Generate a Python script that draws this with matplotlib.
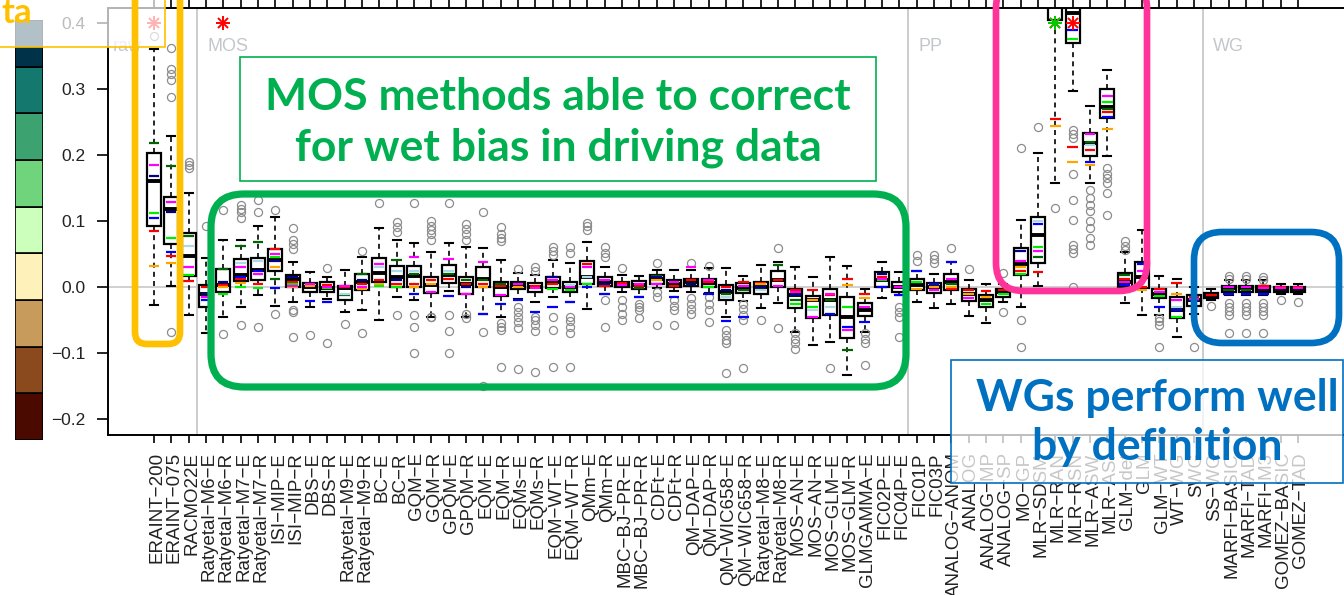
import numpy as np
import matplotlib.pyplot as plt
from matplotlib.patches import FancyBboxPatch, Rectangle
import matplotlib.transforms as mtransforms

plt.rcParams['font.family'] = ['Liberation Sans', 'DejaVu Sans']

# method names, one box each
methods = [
    'ERAINT-200', 'ERAINT-075', 'RACMO22E',
    'Ratyetal-M6-E', 'Ratyetal-M6-R', 'Ratyetal-M7-E', 'Ratyetal-M7-R',
    'ISI-MIP-E', 'ISI-MIP-R', 'DBS-E', 'DBS-R', 'Ratyetal-M9-E', 'Ratyetal-M9-R',
    'BC-E', 'BC-R', 'GQM-E', 'GQM-R', 'GPQM-E', 'GPQM-R', 'EQM-E', 'EQM-R',
    'EQMs-E', 'EQMs-R', 'EQM-WT-E', 'EQM-WT-R', 'QMm-E', 'QMm-R',
    'MBC-BJ-PR-E', 'MBC-BJ-PR-R', 'CDFt-E', 'CDFt-R', 'QM-DAP-E', 'QM-DAP-R',
    'QM-WIC658-E', 'QM-WIC658-R', 'Ratyetal-M8-E', 'Ratyetal-M8-R',
    'MOS-AN-E', 'MOS-AN-R', 'MOS-GLM-E', 'MOS-GLM-R', 'GLMGAMMA-E',
    'FIC02P-E', 'FIC04P-E', 'FIC01P', 'FIC03P',
    'ANALOG-ANOM', 'ANALOG', 'ANALOG-MP', 'ANALOG-SP', 'MO-GP',
    'MLR-SDSM', 'MLR-RAN', 'MLR-RSN', 'MLR-ASW', 'MLR-ASI',
    'GLM-det', 'GLM', 'GLM-WT', 'WT-WG', 'SWG',
    'SS-WG', 'MARFI-BASIC', 'MARFI-TAD', 'MARFI-M3', 'GOMEZ-BASIC', 'GOMEZ-TAD',
]

# box statistics (relative bias)
whis_lo = [-0.027, 0.002, -0.042, -0.070, -0.045, -0.030, -0.012, -0.029, -0.023, -0.030,
           -0.018, -0.038, -0.034, -0.050, -0.015, -0.020, -0.045, -0.006, -0.045, -0.040,
           -0.045, -0.018, -0.022, -0.015, -0.022, -0.033, -0.010, -0.008, -0.015, -0.002,
           -0.006, -0.008, -0.009, -0.045, -0.021, -0.032, -0.024, -0.068, -0.088, -0.083,
           -0.133, -0.068, -0.017, -0.012, -0.022, -0.032, -0.025, -0.044, -0.055, -0.022,
           -0.030, 0.002, 0.157, 0.297, 0.157, 0.199, -0.024, -0.042, -0.042, -0.075,
           -0.040, -0.020, -0.012, -0.012, -0.012, -0.010, -0.010]
q1 = [0.092, 0.065, 0.017, -0.030, -0.008, 0.009, 0.011, 0.024, 0.000, -0.008,
      -0.008, -0.020, -0.005, 0.008, 0.000, 0.000, -0.009, 0.006, -0.011, 0.000,
      -0.014, -0.003, -0.008, -0.002, -0.008, 0.005, 0.002, 0.000, -0.003, 0.005,
      0.000, 0.002, 0.000, -0.020, -0.009, -0.011, 0.000, -0.032, -0.047, -0.042,
      -0.077, -0.044, 0.000, -0.007, -0.005, -0.009, -0.005, -0.021, -0.030, -0.015,
      0.019, 0.036, 0.405, 0.370, 0.199, 0.256, 0.000, -0.002, -0.017, -0.047,
      -0.029, -0.016, -0.007, -0.007, -0.007, -0.007, -0.007]
med = [0.161, 0.119, 0.047, -0.010, 0.003, 0.018, 0.026, 0.041, 0.012, 0.000,
       -0.002, -0.001, 0.008, 0.021, 0.015, 0.017, 0.003, 0.018, 0.004, 0.013,
       0.000, 0.003, 0.000, 0.007, 0.000, 0.015, 0.008, 0.004, 0.003, 0.012,
       0.005, 0.008, 0.006, -0.008, -0.002, 0.000, 0.010, -0.012, -0.020, -0.020,
       -0.045, -0.035, 0.010, 0.000, 0.003, 0.000, 0.008, -0.010, -0.020, -0.008,
       0.035, 0.079, 0.440, 0.415, 0.218, 0.273, 0.008, 0.015, -0.010, -0.035,
       -0.020, -0.012, -0.002, -0.002, -0.003, -0.003, -0.003]
q3 = [0.203, 0.137, 0.082, 0.003, 0.027, 0.042, 0.044, 0.058, 0.018, 0.006,
      0.007, 0.002, 0.020, 0.044, 0.032, 0.032, 0.015, 0.033, 0.015, 0.030,
      0.008, 0.008, 0.006, 0.015, 0.008, 0.039, 0.015, 0.008, 0.009, 0.018,
      0.011, 0.012, 0.012, 0.003, 0.006, 0.008, 0.024, -0.003, -0.014, -0.003,
      -0.015, -0.024, 0.023, 0.008, 0.012, 0.006, 0.020, -0.003, -0.012, -0.003,
      0.059, 0.106, 0.500, 0.470, 0.233, 0.300, 0.021, 0.038, -0.003, -0.015,
      -0.012, -0.009, 0.002, 0.002, 0.002, 0.000, 0.000]
whis_hi = [0.360, 0.229, 0.142, 0.044, 0.071, 0.071, 0.092, 0.106, 0.038, 0.023,
           0.015, 0.026, 0.046, 0.089, 0.071, 0.067, 0.053, 0.067, 0.060, 0.059,
           0.041, 0.021, 0.018, 0.041, 0.036, 0.068, 0.030, 0.018, 0.017, 0.026,
           0.026, 0.026, 0.029, 0.029, 0.017, 0.033, 0.038, 0.030, 0.015, 0.045,
           0.032, -0.003, 0.038, 0.023, 0.024, 0.020, 0.038, 0.011, 0.005, 0.004,
           0.101, 0.203, 0.600, 0.550, 0.274, 0.329, 0.053, 0.086, 0.017, 0.012,
           0.000, -0.003, 0.011, 0.011, 0.011, 0.005, 0.005]

outliers = [
    [0.38], [0.362, 0.33, 0.322, 0.314, 0.288, -0.068], [0.19, 0.185, 0.18],
    [0.093], [0.117, -0.071], [0.125, 0.119, 0.113, 0.105, -0.058], [0.132, 0.114, -0.06],
    [0.117, -0.04], [0.089, 0.072, 0.066, 0.057, -0.035, -0.037, -0.076], [-0.072],
    [0.029, -0.085], [-0.056], [0.055, -0.069], [0.128], [0.099, 0.091, 0.083, -0.042],
    [0.127, -0.042, -0.06, -0.1], [0.1, 0.093, 0.087, 0.08, 0.072, -0.045, -0.046],
    [0.127, -0.042, -0.066, -0.1], [0.096, 0.088, 0.08, 0.072, -0.04, -0.047],
    [0.113, -0.068, -0.15], [0.091, 0.08, 0.075, 0.07, -0.055, -0.06, -0.065, -0.121],
    [0.027, -0.03, -0.038, -0.045, -0.053, -0.062, -0.124],
    [0.03, 0.025, -0.045, -0.05, -0.058, -0.066, -0.128],
    [0.06, 0.055, 0.048, -0.045, -0.065, -0.121],
    [0.06, 0.052, -0.045, -0.052, -0.06, -0.07, -0.121],
    [0.097, 0.092, 0.086], [0.06, 0.052, 0.045, -0.02, -0.06],
    [0.029, -0.02, -0.03, -0.04, -0.05], [-0.025, -0.03, -0.035, -0.047],
    [0.036, -0.008, -0.015, -0.058], [-0.02, -0.028, -0.035, -0.058],
    [0.036, -0.017, -0.025, -0.033, -0.04], [0.032, -0.015, -0.025, -0.035, -0.053],
    [-0.065, -0.072, -0.08, -0.085, -0.13], [-0.025, -0.033, -0.042, -0.05, -0.123],
    [-0.05], [0.059, -0.062], [-0.07, -0.078, -0.085, -0.093], [], [-0.123], [],
    [-0.07, -0.078, -0.085, -0.118], [], [-0.03, -0.038, -0.045, -0.075],
    [0.048, 0.04], [0.048, 0.042, 0.036], [0.059], [0.027], [], [0.021, -0.037],
    [0.21, -0.05, -0.09], [0.243], [0.12],
    [0.238, 0.232, 0.226, 0.172, 0.132, 0.101, 0.064, 0.058, 0.052, 0.0],
    [0.147, 0.135, 0.125, 0.115, 0.1, 0.09, 0.075, 0.064],
    [0.18, 0.172, 0.165, 0.158, 0.142, 0.109], [0.07, 0.063, 0.056], [],
    [-0.047, -0.052, -0.058, -0.09], [], [-0.09], [-0.029],
    [0.017, 0.012, -0.024, -0.03, -0.036, -0.042, -0.07],
    [0.017, 0.012, -0.024, -0.03, -0.036, -0.042, -0.07],
    [0.015, 0.01, -0.024, -0.03, -0.036, -0.042, -0.07], [-0.02], [-0.022],
]

nan = np.nan
# per-region values shown as coloured dashes
mark_red = [0.085, 0.047, 0.009, 0.0, 0.003, 0.012, 0.005, 0.058, 0.008, 0.004,
            0.003, 0.0, 0.005, 0.01, 0.005, 0.005, 0.01, 0.012, 0.005, 0.005,
            0.002, nan, 0.002, 0.005, nan, 0.035, 0.002, 0.006, 0.002, nan,
            0.002, 0.01, 0.008, 0.0, 0.008, 0.006, 0.01, -0.005, -0.005, -0.012,
            0.012, -0.01, 0.015, 0.0, nan, nan, -0.003, -0.004, -0.006, -0.005,
            0.025, 0.023, 0.255, 0.212, 0.207, 0.265, 0.012, 0.0, -0.003, 0.006,
            -0.015, -0.012, nan, nan, 0.001, 0.0, 0.0]
mark_orange = [0.032, 0.036, nan, nan, 0.0, 0.006, nan, 0.03, 0.0, 0.002,
               nan, nan, -0.003, 0.005, 0.0, 0.0, 0.005, nan, nan, 0.0,
               nan, 0.0, nan, nan, nan, nan, nan, nan, nan, 0.01,
               nan, nan, nan, nan, nan, 0.004, nan, nan, -0.02, nan,
               0.003, -0.016, nan, nan, -0.003, 0.0, 0.0, -0.01, -0.015, nan,
               0.03, nan, 0.244, 0.189, 0.185, 0.239, nan, -0.005, nan, -0.01,
               nan, nan, nan, nan, nan, nan, nan]
mark_green = [0.112, 0.075, 0.018, nan, -0.01, 0.0, -0.002, 0.045, 0.005, nan,
              -0.002, nan, nan, 0.002, 0.0, nan, nan, nan, nan, nan,
              nan, nan, nan, -0.003, -0.005, 0.005, nan, nan, nan, nan,
              nan, 0.004, 0.0, nan, nan, nan, nan, -0.025, -0.03, nan,
              -0.03, nan, 0.01, nan, 0.008, nan, nan, nan, -0.025, -0.01,
              0.02, 0.06, nan, 0.375, nan, 0.28, nan, nan, -0.014, -0.045,
              nan, nan, nan, nan, nan, nan, nan]
mark_darkgreen = [0.218, 0.183, 0.078, nan, 0.028, 0.062, 0.068, 0.012, nan, nan,
                  nan, -0.012, 0.02, nan, 0.041, 0.02, nan, 0.02, 0.01, 0.01,
                  0.005, nan, nan, nan, nan, nan, nan, nan, -0.002, 0.017,
                  nan, nan, nan, -0.01, -0.005, nan, 0.033, -0.02, nan, -0.02,
                  -0.095, nan, nan, nan, nan, nan, 0.005, nan, nan, nan,
                  nan, 0.045, nan, nan, 0.22, 0.27, 0.018, nan, nan, nan,
                  nan, nan, -0.004, -0.004, nan, nan, nan]
mark_blue = [0.105, 0.053, nan, -0.02, nan, 0.015, 0.025, -0.001, nan, -0.021,
             -0.022, nan, nan, nan, nan, -0.01, nan, -0.014, nan, -0.04,
             -0.026, -0.02, -0.037, -0.03, -0.022, 0.0, -0.01, nan, -0.015, nan,
             -0.015, nan, -0.01, -0.052, -0.046, nan, nan, nan, nan, -0.04,
             -0.06, -0.053, 0.0, -0.012, 0.025, 0.005, 0.038, nan, nan, nan,
             nan, 0.095, nan, 0.39, 0.189, 0.257, 0.003, 0.035, -0.03, -0.035,
             -0.02, nan, -0.01, -0.01, -0.01, nan, nan]
mark_navy = [0.169, 0.114, nan, -0.01, 0.008, nan, nan, 0.04, 0.015, nan,
             nan, nan, 0.01, nan, 0.01, nan, nan, nan, 0.0, nan,
             nan, nan, nan, 0.015, nan, nan, 0.005, nan, nan, 0.015,
             nan, 0.005, nan, -0.005, nan, 0.0, nan, -0.012, nan, nan,
             nan, nan, 0.02, nan, nan, nan, nan, nan, nan, nan,
             0.055, nan, nan, nan, nan, nan, nan, nan, nan, nan,
             nan, nan, nan, nan, nan, nan, nan]
mark_magenta = [0.185, 0.129, 0.031, -0.015, nan, 0.03, 0.02, 0.05, 0.002, 0.005,
                0.0, 0.001, 0.0, 0.035, nan, 0.045, -0.008, 0.042, -0.01, 0.038,
                -0.012, 0.005, -0.002, 0.01, 0.0, 0.03, 0.01, 0.003, 0.005, 0.005,
                0.008, 0.03, 0.01, nan, 0.002, nan, 0.002, -0.008, -0.045, -0.01,
                -0.065, -0.03, 0.012, 0.0, nan, -0.005, 0.012, -0.016, nan, nan,
                0.04, 0.055, nan, nan, 0.232, 0.29, 0.008, 0.025, -0.008, -0.02,
                -0.018, nan, 0.0, 0.0, -0.002, -0.002, -0.002]
mark_lightblue = [nan, nan, 0.062, nan, nan, 0.036, 0.04, nan, nan, nan,
                  nan, -0.01, nan, 0.03, 0.025, 0.025, nan, 0.025, nan, nan,
                  nan, nan, nan, nan, 0.003, 0.015, nan, nan, nan, nan,
                  nan, nan, nan, -0.015, nan, -0.005, nan, nan, -0.035, -0.03,
                  nan, nan, nan, nan, nan, nan, nan, nan, nan, nan,
                  nan, 0.1, nan, nan, 0.215, nan, nan, nan, nan, -0.03,
                  nan, nan, nan, nan, nan, nan, nan]

# values beyond the top of the axis, flagged with an asterisk
offscale_idx = [0, 4, 52, 52, 53]
offscale_val = [0.4, 0.4, 0.4, 0.4, 0.4]
offscale_col = ['red', 'red', 'red', '#00cc00', 'red']

group_names = ['raw', 'MOS', 'PP', 'WG']
group_bounds = [-2.65, 2.5, 43.5, 60.5]

yticks = [-0.2, -0.1, 0.0, 0.1, 0.2, 0.3, 0.4]

# colour key of the neighbouring panel
cbar_colors = ['#4a0a00', '#8b4a1e', '#c69b5c', '#fff1ba', '#ccffbb',
               '#70d47c', '#3ca370', '#15786e', '#003249']

W, H = 1344, 595
fig = plt.figure(figsize=(W / 100, H / 100), dpi=100)
ax = fig.add_axes([108 / W, (H - 435) / H, (1350 - 108) / W, (435 - 8) / H])

pos = np.arange(len(methods))
stats = [dict(med=m, q1=a, q3=b, whislo=lo, whishi=hi, fliers=f)
         for m, a, b, lo, hi, f in zip(med, q1, q3, whis_lo, whis_hi, outliers)]

ax.axhline(0, color='#c8c8c8', lw=1.2, zorder=0)
for b in group_bounds[1:]:
    ax.axvline(b, color='#c4c4c4', lw=1.2, zorder=0)

ax.bxp(stats, positions=pos, widths=0.8, patch_artist=True, manage_ticks=False,
       boxprops=dict(facecolor='white', edgecolor='black', linewidth=1.6),
       medianprops=dict(color='black', linewidth=2.8),
       whiskerprops=dict(color='black', linewidth=1.2, linestyle=(0, (3, 2.5))),
       capprops=dict(color='black', linewidth=1.5), capwidths=0.45,
       flierprops=dict(marker='o', markerfacecolor='none', markeredgecolor='#8c8c8c',
                       markersize=5.8, markeredgewidth=0.9))

marks = [(mark_red, '#ff0000'), (mark_orange, '#ffa500'), (mark_green, '#00ee00'),
         (mark_darkgreen, '#006400'), (mark_blue, '#0000ff'), (mark_navy, '#00008b'),
         (mark_magenta, '#ff00ff'), (mark_lightblue, '#add8e6')]
for vals, col in marks:
    v = np.array(vals, dtype=float)
    ok = ~np.isnan(v)
    ax.hlines(v[ok], pos[ok] - 0.3, pos[ok] + 0.3, colors=col, lw=1.6, zorder=4)

for i, v, c in zip(offscale_idx, offscale_val, offscale_col):
    ax.plot(i, v, marker='+', ms=10, mew=1.4, color=c, zorder=5)
    ax.plot(i, v, marker='x', ms=7.5, mew=1.4, color=c, zorder=5)

for name, b in zip(group_names, group_bounds):
    ax.text(b + (0.3 if name == 'raw' else 0.6), 0.365, name, color='#c3c7cc',
            fontsize=13, ha='left', va='center')

ax.set_xlim(-2.65, 69.0)
ax.set_ylim(-0.224, 0.4227)
ax.set_xticks(pos)
ax.set_xticklabels([m.replace('-', '\u2212') for m in methods], rotation=90,
                   fontsize=13.5, color='#222222')
ax.set_yticks(yticks)
ax.set_yticklabels([f'{v:.1f}'.replace('-', '\u2212') for v in yticks],
                   fontsize=12.5, color='#222222')
ax.tick_params(axis='x', top=True, direction='out', length=6, width=1.2, pad=6.5)
ax.tick_params(axis='y', direction='out', length=8, width=1.2, pad=8)
offset = mtransforms.ScaledTranslation(3 / 100, 0, fig.dpi_scale_trans)
for lab in ax.get_xticklabels():
    lab.set_transform(lab.get_transform() + offset)
for s in ax.spines.values():
    s.set_linewidth(1.4)

# colour key strip on the far left
cb = fig.add_axes([15 / W, (H - 440) / H, 28 / W, 420 / H])
for i, c in enumerate(cbar_colors):
    cb.add_patch(Rectangle((0, i), 1, 1, facecolor=c, edgecolor='black', lw=1.2))
cb.set_xlim(0, 1)
cb.set_ylim(0, len(cbar_colors))
cb.axis('off')

# call-out layer in pixel coordinates
ov = fig.add_axes([0, 0, 1, 1], zorder=10)
ov.set_xlim(0, W)
ov.set_ylim(H, 0)
ov.axis('off')
ov.patch.set_alpha(0)


def rbox(x0, y0, x1, y1, col, lw, r):
    ov.add_patch(FancyBboxPatch((x0, y0), x1 - x0, y1 - y0,
                                boxstyle=f'round,pad=0,rounding_size={r}',
                                facecolor='none', edgecolor=col, lw=lw))


def tbox(x0, y0, x1, y1, col, alpha):
    ov.add_patch(Rectangle((x0, y0), x1 - x0, y1 - y0, facecolor=(1, 1, 1, alpha),
                           edgecolor=col, lw=1.2))


tbox(-10, -10, 165, 47, '#ffc000', 0.7)
ov.text(32, 23, 'ta', color='#ffc000', fontsize=25, fontweight='bold', family='Lato',
        ha='right', va='baseline')

rbox(135, -20, 180, 344, '#ffc000', 4.8, 12)
rbox(211, 194, 906, 387, '#00b050', 5.2, 33)
rbox(996, -20, 1147, 291, '#ff3399', 4.8, 28)
rbox(1194, 232, 1339, 343, '#0070c0', 4.8, 28)

tbox(240, 57, 876, 181, '#00b050', 0.85)
green_txt = dict(color='#00b050', fontsize=32, fontweight='bold', family='Lato',
                 ha='center', va='baseline')
ov.text(558, 110, 'MOS methods able to correct', **green_txt)
ov.text(558, 161, 'for wet bias in driving data', **green_txt)

tbox(951, 360, 1343, 483, '#0070c0', 0.75)
blue_txt = dict(color='#0070c0', fontsize=32, fontweight='bold', family='Lato',
                ha='center', va='baseline')
ov.text(1157, 411, 'WGs perform well', **blue_txt)
ov.text(1157, 460, 'by definition', **blue_txt)

fig.savefig('out.png', dpi=100)
